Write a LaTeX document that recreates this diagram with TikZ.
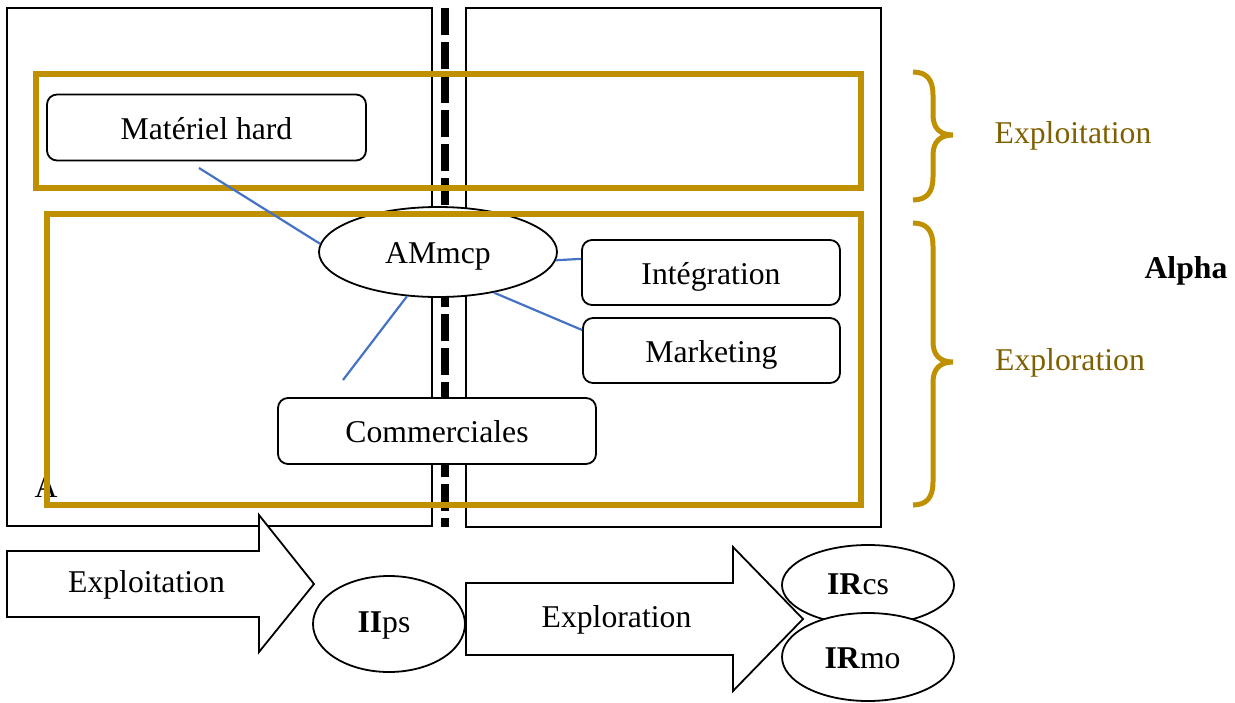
\documentclass[tikz,border=0pt]{standalone}
\usepackage{fontspec}
\setmainfont{Liberation Serif}
\usetikzlibrary{shapes.geometric}
\definecolor{gold}{HTML}{BF9000}
\definecolor{goldtxt}{HTML}{7F6000}
\definecolor{linkblue}{HTML}{4472C4}
\begin{document}
\begin{tikzpicture}[x=1pt,y=-1pt,
  font=\fontsize{31.7}{38}\selectfont,
  every node/.style={text height=25.5pt, text depth=1.8pt},
  frame/.style={draw=black, line width=1.8pt},
  box/.style={draw=black, line width=1.8pt, rounded corners=10pt, fill=white, inner sep=0pt},
  ell/.style={draw=black, ellipse, line width=1.8pt, fill=white, inner sep=0pt},
  goldframe/.style={draw=gold, line width=6pt},
  link/.style={draw=linkblue, line width=2.2pt},
  bracepath/.style={draw=gold, line width=5pt},
  arrowshape/.style={draw=black, line width=1.8pt, fill=white, line join=miter}]
\useasboundingbox (0,0) rectangle (1235,702);
% outer frames
\draw[frame] (7,8) rectangle (432,526);
\draw[frame] (466,8) rectangle (881,527);
\draw[line width=8pt, dash pattern=on 27pt off 7pt] (445,8) -- (445,527);
\node (A) at (46,486) {A};
% nodes
\node[box, minimum width=319pt, minimum height=66pt] (mat) at (206.5,127.5) {Matériel hard};
\node[ell, minimum width=238pt, minimum height=90pt, text depth=3.5pt] (am) at (438,252) {AMmcp};
\node[box, minimum width=258pt, minimum height=65pt] (int) at (711,272.5) {Intégration};
\node[box, minimum width=257pt, minimum height=65pt] (mkt) at (711.5,350.5) {Marketing};
\node[box, minimum width=318pt, minimum height=66pt] (com) at (437,431) {Commerciales};
% gold frames
\draw[goldframe] (36,74) rectangle (861,188);
\draw[goldframe] (47,214) rectangle (861,505);
% links
\coordinate (l1) at (199,168);
\coordinate (l2) at (343,380);
\draw[link] (l1) -- (am.176);
\draw[link] (am.235) -- (l2);
\draw[link] (am.356) -- (int.174.5);
\draw[link] (am.324) -- (mkt.171.9);
% braces
\draw[bracepath] (913,72) .. controls (927,72) and (933,80) .. (933,95) -- (933,115) .. controls (933,128) and (940,135) .. (953,135) .. controls (940,135) and (933,142) .. (933,155) -- (933,177) .. controls (933,192) and (927,200) .. (913,200);
\draw[bracepath] (913,223) .. controls (927,223) and (933,231) .. (933,246) -- (933,342) .. controls (933,355) and (940,362) .. (953,362) .. controls (940,362) and (933,369) .. (933,382) -- (933,482) .. controls (933,497) and (927,505) .. (913,505);
\node[text=goldtxt] (exploit) at (1073,131.5) {Exploitation};
\node[text=goldtxt] (explor) at (1070,358.8) {Exploration};
\node[font=\fontsize{31.7}{38}\selectfont\bfseries] (alpha) at (1186,266.5) {Alpha};
% bottom arrows
\draw[arrowshape] (7,551) -- (259,551) -- (259,515) -- (314,584) -- (259,652) -- (259,617) -- (7,617) -- cycle;
\node (t1) at (146.5,580.5) {Exploitation};
\node[ell, minimum width=152pt, minimum height=96pt, text depth=7.8pt] (iips) at (389,624) {\kern-10pt\textbf{II}ps};
\draw[arrowshape] (466,583) -- (733,583) -- (733,547) -- (803,619) -- (733,691) -- (733,655) -- (466,655) -- cycle;
\node (t2) at (616.5,615.5) {Exploration};
\node[ell, minimum width=172pt, minimum height=80pt, text depth=5.8pt] (ircs) at (868,585) {\kern-20pt\textbf{IR}cs};
\node[ell, minimum width=172pt, minimum height=88pt] (irmo) at (868,657) {\kern-11pt\textbf{IR}mo};
\end{tikzpicture}
\end{document}
